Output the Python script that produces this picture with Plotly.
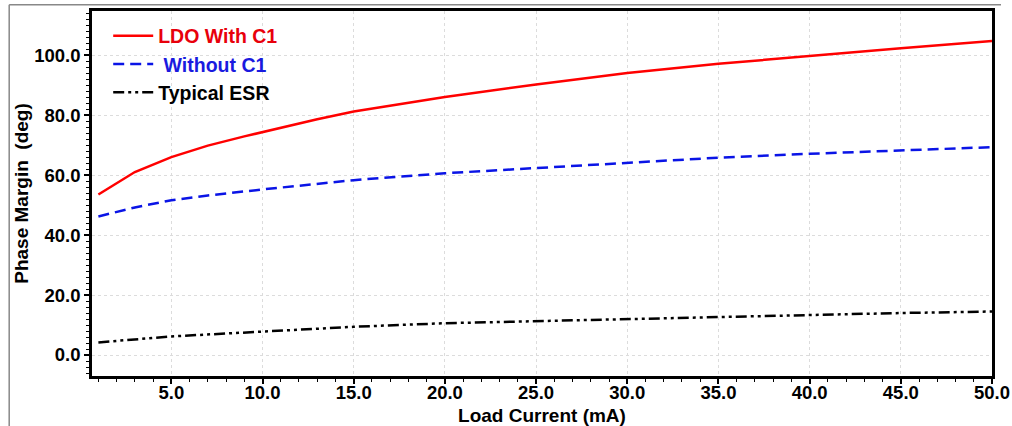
import plotly.graph_objects as go

x_red = [1, 3, 5, 7, 9, 11, 13, 15, 20, 25, 30, 35, 40, 45, 50]
y_red = [53.5, 61.0, 66.0, 69.8, 72.9, 75.8, 78.6, 81.2, 86.0, 90.2, 94.0, 97.1, 99.8, 102.3, 104.7]

x_blue = [1, 3, 5, 7, 10, 15, 20, 25, 30, 35, 40, 45, 50]
y_blue = [46.2, 49.2, 51.6, 53.2, 55.2, 58.3, 60.6, 62.4, 64.2, 65.8, 67.1, 68.3, 69.3]

x_black = [1, 3, 5, 10, 15, 20, 25, 30, 35, 40, 45, 50]
y_black = [4.2, 5.3, 6.2, 7.8, 9.4, 10.6, 11.3, 12.0, 12.8, 13.4, 14.0, 14.5]

names = ["LDO With C1", "\u00a0Without C1", "Typical ESR"]

FONT = "Liberation Sans, Arial"

fig = go.Figure()
fig.add_trace(go.Scatter(x=x_red, y=y_red, mode="lines",
                         name="<span style='color:#e8000b'>" + names[0] + "</span>",
                         line=dict(color="#ff0000", width=2.5)))
fig.add_trace(go.Scatter(x=x_blue, y=y_blue, mode="lines",
                         name="<span style='color:#1a1adf'>" + names[1] + "</span>",
                         line=dict(color="#0a14e6", width=2.5, dash="11px,6px")))
fig.add_trace(go.Scatter(x=x_black, y=y_black, mode="lines",
                         name="<span style='color:#000000'>" + names[2] + "</span>",
                         line=dict(color="#000000", width=2.5, dash="11px,4px,3px,4px,3px,4px")))

axis_common = dict(
    showline=True, linecolor="black", linewidth=2.5, mirror=True,
    ticks="outside", ticklen=5, tickwidth=1.5, tickcolor="black",
    showgrid=True, gridcolor="#dcdcdc", griddash="dot", gridwidth=1,
    zeroline=False, automargin=False,
    tickfont=dict(family=FONT, size=18.5, color="black", weight="bold"),
    minor=dict(ticks="outside", ticklen=3, tickcolor="black", tickwidth=1, showgrid=False),
)

fig.update_xaxes(range=[0.65, 50], dtick=5, tick0=0, tickformat=".1f",
                 ticklabelstandoff=-7,
                 title=dict(text="Load Current (mA)", standoff=9,
                            font=dict(family=FONT, size=19, color="black", weight="bold")),
                 **axis_common)
fig.update_xaxes(minor_dtick=1)
fig.update_yaxes(range=[-7, 114.7], dtick=20, tick0=0, tickformat=".1f",
                 title=dict(text="Phase Margin  (deg)", standoff=1,
                            font=dict(family=FONT, size=19, color="black", weight="bold")),
                 **axis_common)
fig.update_yaxes(minor_dtick=2)

fig.update_layout(
    width=1012, height=426,
    margin=dict(l=92, r=20, t=11, b=50, autoexpand=False),
    paper_bgcolor="white", plot_bgcolor="white",
    showlegend=True,
    legend=dict(x=0.018, y=0.985, xanchor="left", yanchor="top",
                bgcolor="rgba(0,0,0,0)", borderwidth=0,
                font=dict(family=FONT, size=19.5, weight="bold"),
                tracegroupgap=0, itemwidth=40),
    shapes=[
        dict(type="line", xref="paper", yref="paper", x0=-0.092, x1=1.01, y0=1.017, y1=1.017,
             line=dict(color="#888888", width=1.5)),
        dict(type="line", xref="paper", yref="paper", x0=-0.092, x1=-0.092, y0=1.017, y1=-0.14,
             line=dict(color="#888888", width=1.5)),
    ],
)

fig.write_html("out.html", config={"displayModeBar": False},
               post_script="document.body.style.margin='0';document.body.style.overflow='hidden';")
